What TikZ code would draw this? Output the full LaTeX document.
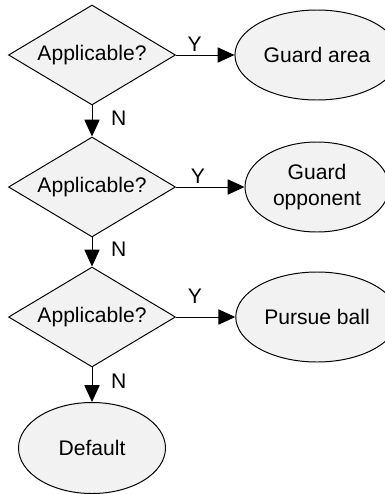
\documentclass[tikz,border=0pt]{standalone}
\usepackage{fontspec}
\setmainfont{Liberation Sans}
\usetikzlibrary{shapes.geometric, arrows.meta}
\definecolor{shapefill}{HTML}{F2F2F2}
\begin{document}
\begin{tikzpicture}[
  choice/.style={draw, diamond, fill=shapefill, shape aspect=1.67, inner sep=0pt, minimum width=4.175cm, minimum height=2.5cm},
  action/.style={draw, ellipse, fill=shapefill, align=center, minimum width=3.6cm, minimum height=2.25cm},
  link/.style={-{Triangle[length=0.42cm, width=0.38cm]}, line width=0.7pt},
  every node/.style={font=\fontsize{15}{19}\selectfont},
  line width=0.7pt
]
  \useasboundingbox (0,0) rectangle (9.625,-12.35);

  \node[choice] (check1) at (2.3,-1.375) {Applicable?};
  \node[choice] (check2) at (2.3,-4.675) {Applicable?};
  \node[choice] (check3) at (2.3,-7.925) {Applicable?};

  \node[action] (area) at (7.925,-1.375) {Guard area};
  \node[action] (opponent) at (7.925,-4.675) {Guard\\opponent};
  \node[action] (ball) at (7.925,-7.925) {Pursue ball};
  \node[action, minimum width=3.675cm, minimum height=2.275cm] (default) at (2.3,-11.2) {Default};

  \draw[link] (check1) -- node[pos=0.32, above=-1pt] {Y} (area);
  \draw[link] (check2) -- node[pos=0.32, above=-1pt] {Y} (opponent);
  \draw[link] (check3) -- node[pos=0.32, above=6pt] {Y} (ball);

  \draw[link] (check1) -- node[pos=0.4, right=0.35cm] {N} (check2);
  \draw[link] (check2) -- node[pos=0.4, right=0.35cm] {N} (check3);
  \draw[link] (check3) -- node[pos=0.4, right=0.35cm] {N} (default);
\end{tikzpicture}
\end{document}
